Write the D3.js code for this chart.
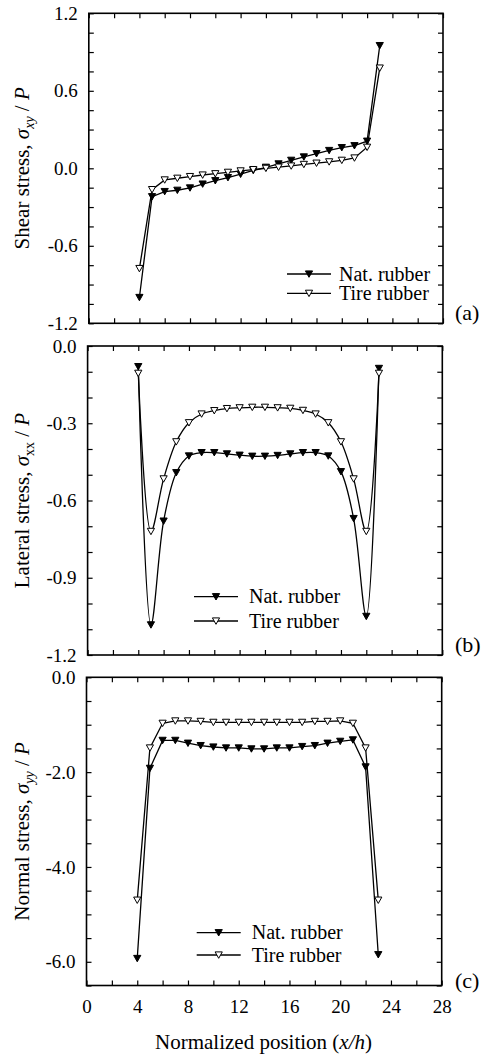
<!DOCTYPE html>
<html>
<head>
<meta charset="utf-8">
<script src="https://cdn.jsdelivr.net/npm/d3@7/dist/d3.min.js"></script>
<style>
  body { margin: 0; background: #fff; }
  svg { display: block; }
</style>
</head>
<body>
<div id="chart"></div>
<script>
// ---- data ----
const positions = [4, 5, 6, 7, 8, 9, 10, 11, 12, 13, 14, 15, 16, 17, 18, 19, 20, 21, 22, 23];

const shearNat  = [-1.0, -0.22, -0.18, -0.17, -0.152, -0.122, -0.096, -0.072, -0.046, -0.017,
                   0.008, 0.034, 0.062, 0.088, 0.113, 0.138, 0.16, 0.175, 0.21, 0.95];
const shearTire = [-0.776, -0.165, -0.09, -0.077, -0.064, -0.052, -0.042, -0.031, -0.02, -0.01,
                   0.0, 0.009, 0.018, 0.03, 0.04, 0.05, 0.062, 0.08, 0.163, 0.776];

const lateralNat  = [-0.08, -1.083, -0.68, -0.492, -0.427, -0.414, -0.414, -0.419, -0.424, -0.428,
                     -0.428, -0.425, -0.419, -0.414, -0.414, -0.427, -0.488, -0.67, -1.05, -0.087];
const lateralTire = [-0.106, -0.72, -0.516, -0.372, -0.298, -0.264, -0.251, -0.243, -0.24, -0.238,
                     -0.238, -0.24, -0.242, -0.25, -0.264, -0.298, -0.372, -0.516, -0.72, -0.106];

const normalNat  = [-5.93, -1.92, -1.33, -1.33, -1.39, -1.44, -1.47, -1.49, -1.49, -1.51,
                    -1.51, -1.49, -1.49, -1.46, -1.44, -1.39, -1.35, -1.32, -1.89, -5.85];
const normalTire = [-4.70, -1.49, -0.97, -0.92, -0.92, -0.93, -0.95, -0.95, -0.95, -0.95,
                    -0.95, -0.95, -0.95, -0.95, -0.93, -0.93, -0.92, -0.97, -1.49, -4.70];

const seriesNames = ['Nat. rubber', 'Tire rubber'];

const xLabels = [0, 4, 8, 12, 16, 20, 24, 28];
const shearLabels = [-1.2, -0.6, 0, 0.6, 1.2];
const lateralLabels = [-1.2, -0.9, -0.6, -0.3, 0];
const normalLabels = [-6, -4, -2, 0];

// ---- layout ----
const W = 482, H = 1056;
const font = '"Liberation Serif", "Times New Roman", Times, serif';

const svg = d3.select('#chart').append('svg')
  .attr('width', W).attr('height', H)
  .style('font-family', font);
svg.append('rect').attr('width', W).attr('height', H).attr('fill', '#fff');

const tri = 'M-3.6,-3.1L3.6,-3.1L0,3.3Z';

function ticksFrom(lo, step, n) {
  return d3.range(n).map(i => +(lo + i * step).toFixed(3));
}

function panel(cfg) {
  const x = d3.scaleLinear().domain([0, 28]).range([cfg.left, cfg.right]);
  const y = d3.scaleLinear().domain(cfg.yDomain).range([cfg.bottom, cfg.top]);
  const g = svg.append('g');

  const xTicks = ticksFrom(0, 2, 15);
  const fmtY = v => cfg.yLabels.some(l => Math.abs(l - v) < 1e-6) ? (v === 0 ? '0.0' : v.toFixed(1)) : '';
  const fmtX = v => cfg.showX && xLabels.includes(v) ? String(v) : '';

  const style = sel => {
    sel.select('.domain').remove();
    sel.selectAll('line').attr('stroke', '#000').attr('stroke-width', 1.2);
    sel.selectAll('text').attr('fill', '#000').attr('font-family', font).attr('font-size', 19);
  };

  g.append('g').attr('transform', `translate(${cfg.left},0)`)
    .call(d3.axisLeft(y).tickValues(cfg.yTicks).tickSizeInner(-5).tickSizeOuter(0).tickPadding(11).tickFormat(fmtY))
    .call(style);
  g.append('g').attr('transform', `translate(${cfg.right},0)`)
    .call(d3.axisRight(y).tickValues(cfg.yTicks).tickSizeInner(-5).tickSizeOuter(0).tickFormat(''))
    .call(style);
  g.append('g').attr('transform', `translate(0,${cfg.bottom})`)
    .call(d3.axisBottom(x).tickValues(xTicks).tickSizeInner(-5).tickSizeOuter(0).tickPadding(14).tickFormat(fmtX))
    .call(style);
  g.append('g').attr('transform', `translate(0,${cfg.top})`)
    .call(d3.axisTop(x).tickValues(xTicks).tickSizeInner(-5).tickSizeOuter(0).tickFormat(''))
    .call(style);

  g.append('rect')
    .attr('x', cfg.left).attr('y', cfg.top)
    .attr('width', cfg.right - cfg.left).attr('height', cfg.bottom - cfg.top)
    .attr('fill', 'none').attr('stroke', '#000').attr('stroke-width', 1.6);

  const line = d3.line().x(d => x(d[0])).y(d => y(d[1])).curve(cfg.curve);
  const fills = ['#000', '#fff'];
  cfg.series.forEach((vals, si) => {
    const pts = positions.map((p, i) => [p, vals[i]]);
    g.append('path').datum(pts).attr('d', line)
      .attr('fill', 'none').attr('stroke', '#000').attr('stroke-width', 1.3);
  });
  cfg.series.forEach((vals, si) => {
    g.selectAll(null).data(positions.map((p, i) => [p, vals[i]])).join('path')
      .attr('d', tri)
      .attr('transform', d => `translate(${x(d[0])},${y(d[1])})`)
      .attr('fill', fills[si]).attr('stroke', '#000').attr('stroke-width', 1);
  });

  // legend
  const L = cfg.legend;
  seriesNames.forEach((name, si) => {
    const ry = L.rows[si];
    g.append('line').attr('x1', L.x0).attr('x2', L.x1).attr('y1', ry).attr('y2', ry)
      .attr('stroke', '#000').attr('stroke-width', 1.3);
    g.append('path').attr('d', tri).attr('transform', `translate(${(L.x0 + L.x1) / 2},${ry})`)
      .attr('fill', fills[si]).attr('stroke', '#000').attr('stroke-width', 1);
    g.append('text').attr('x', L.tx).attr('y', ry).attr('dy', '0.33em')
      .attr('font-size', 20).text(name);
  });

  // y title
  const cy = (cfg.top + cfg.bottom) / 2;
  const t = g.append('text')
    .attr('transform', `translate(29,${cy}) rotate(-90)`)
    .attr('text-anchor', 'middle').attr('font-size', 21);
  t.append('tspan').text(cfg.title + ', ');
  t.append('tspan').attr('font-style', 'italic').text('σ');
  t.append('tspan').attr('font-style', cfg.subItalic ? 'italic' : 'normal')
    .attr('font-size', 14).attr('dy', 5).text(cfg.sub);
  t.append('tspan').attr('dy', -5).text(' / ');
  t.append('tspan').attr('font-style', 'italic').text('P');

  g.append('text').attr('x', 455).attr('y', cfg.tagY).attr('font-size', 22).text(cfg.tag);

  return x;
}

panel({
  top: 13.3, bottom: 323.3, left: 88.8, right: 443,
  yDomain: [-1.2, 1.2], yTicks: ticksFrom(-1.2, 0.15, 17), yLabels: shearLabels,
  series: [shearNat, shearTire], curve: d3.curveLinear,
  legend: { x0: 287, x1: 331, tx: 339, rows: [274, 293.3] },
  title: 'Shear stress', sub: 'xy', subItalic: true, tag: '(a)', tagY: 320
});

panel({
  top: 346, bottom: 655, left: 87.6, right: 442.3,
  yDomain: [-1.2, 0], yTicks: ticksFrom(-1.2, 0.1, 13), yLabels: lateralLabels,
  series: [lateralNat, lateralTire], curve: d3.curveCatmullRom.alpha(0.5),
  legend: { x0: 194, x1: 238, tx: 249, rows: [596.7, 621] },
  title: 'Lateral stress', sub: 'xx', subItalic: false, tag: '(b)', tagY: 652
});

const xc = panel({
  top: 677.3, bottom: 985.5, left: 86.5, right: 441.7,
  yDomain: [-6.5, 0], yTicks: ticksFrom(-6.5, 0.5, 14), yLabels: normalLabels,
  series: [normalNat, normalTire], curve: d3.curveLinear,
  legend: { x0: 196.7, x1: 240.7, tx: 251.7, rows: [932.7, 955] },
  title: 'Normal stress', sub: 'yy', subItalic: true, tag: '(c)', tagY: 988, showX: true
});

// x title
const xt = svg.append('text').attr('x', 263.5).attr('y', 1049)
  .attr('text-anchor', 'middle').attr('font-size', 21);
xt.append('tspan').text('Normalized position (');
xt.append('tspan').attr('font-style', 'italic').text('x/h');
xt.append('tspan').text(')');
</script>
</body>
</html>
